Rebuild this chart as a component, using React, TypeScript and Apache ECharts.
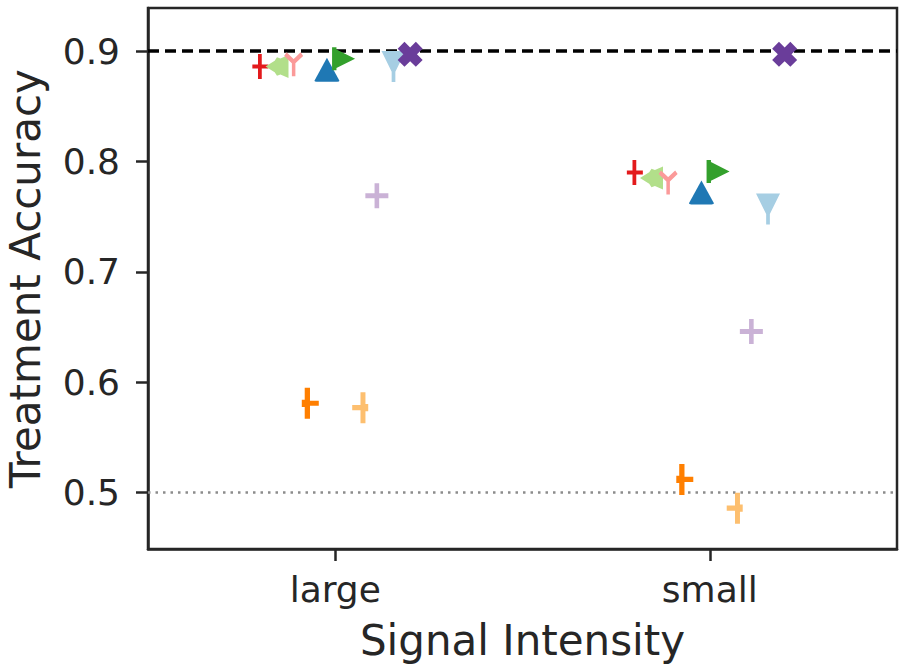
import React, { useEffect, useRef } from "react";
import * as echarts from "echarts";

// ---- data ----
const categories = ["large", "small"];
const yTicks = [0.5, 0.6, 0.7, 0.8, 0.9];
const hueColors = [
  "#e31a1c", "#b2df8a", "#fb9a99", "#ff7f00", "#1f78b4",
  "#33a02c", "#fdbf6f", "#cab2d6", "#a6cee3", "#6a3d9a",
];
const largeValues = [0.886, 0.886, 0.888, 0.581, 0.883, 0.893, 0.577, 0.769, 0.886, 0.897];
const smallValues = [0.790, 0.785, 0.781, 0.512, 0.772, 0.791, 0.486, 0.646, 0.757, 0.897];
const targetLine = 0.9;
const chanceLine = 0.5;

// ---- marker shapes (layout/style) ----
const markers: { symbol: string; size: number[] }[] = [
  { symbol: "path://M6,0 H10 V11 H17 V15 H10 V26 H6 V15 H0 V11 H6 Z", size: [16, 25] },
  { symbol: "path://M0,10 L8,5 L10,2 L13,3 L20,0 L20,20 L13,17 L10,18 L8,15 Z", size: [23, 23] },
  { symbol: "path://M11.2,8.6 L3.2,2.6 L0.8,5.4 L8.3,11 V21 H11.7 V11 L19.2,5.4 L16.8,2.6 L8.8,8.6 Z", size: [19, 24] },
  { symbol: "path://M4,0 H8.5 V12.5 H16 V17.5 H8.5 V30 H4 V18.5 H1.5 V11.5 H4 Z", size: [17, 31] },
  { symbol: "path://M11,0 L22,21 Q22,22 20,22 H2 Q0,22 0,21 Z", size: [25, 24] },
  { symbol: "path://M0,1 H4 V3 L21,11.5 L4,20 V22 H0 Z", size: [23, 23] },
  { symbol: "path://M8.5,0 H13 V11.5 H15.5 V18.5 H13 V30 H8.5 V17.5 H1 V12.5 H8.5 Z", size: [16, 31] },
  { symbol: "path://M8,0 H12 V8 H20 V12 H12 V20 H8 V12 H0 V8 H8 Z", size: [23, 25] },
  { symbol: "path://M0,0 H22 L12.7,18 V27 H9.3 V18 Z", size: [24, 31] },
  { symbol: "path://M0,6 L6,0 L11,5 L16,0 L22,6 L17,11 L22,16 L16,22 L11,17 L6,22 L0,16 L5,11 Z", size: [25, 25] },
];

const DODGE = 0.4;
const TEXT = "#262626";
const FONT = "DejaVu Sans";

export default function App() {
  const ref = useRef<HTMLDivElement>(null);

  useEffect(() => {
    if (!ref.current) return;
    const chart = echarts.init(ref.current, null, { renderer: "svg" });
    const n = hueColors.length;
    const scatterSeries = hueColors.map((color, i) => {
      const off = -DODGE / 2 + (i * DODGE) / (n - 1);
      return {
        type: "scatter",
        name: "h" + i,
        z: 5,
        symbol: markers[i].symbol,
        symbolSize: markers[i].size,
        itemStyle: { color, opacity: 1 },
        data: [
          [0 + off, largeValues[i]],
          [1 + off, smallValues[i]],
        ],
      };
    });

    chart.setOption({
      animation: false,
      backgroundColor: "#ffffff",
      textStyle: { fontFamily: FONT },
      grid: {
        left: 148,
        top: 8,
        right: 7,
        bottom: 121,
        show: true,
        borderColor: TEXT,
        borderWidth: 2.5,
        backgroundColor: "transparent",
        outerBoundsMode: "none",
      },
      xAxis: {
        type: "value",
        min: -0.5,
        max: 1.5,
        name: "Signal Intensity",
        nameLocation: "middle",
        nameGap: 70,
        nameTextStyle: { fontSize: 42, color: TEXT, fontFamily: FONT },
        axisLine: { show: true, onZero: false, lineStyle: { color: TEXT, width: 2.5 } },
        axisTick: {
          show: true,
          length: 12,
          customValues: [0, 1],
          lineStyle: { color: TEXT, width: 2.5 },
        },
        axisLabel: {
          show: true,
          customValues: [0, 1],
          margin: 22,
          fontSize: 36,
          color: TEXT,
          fontFamily: FONT,
          formatter: (v: number) => categories[Math.round(v)] ?? "",
        },
        splitLine: { show: false },
      },
      yAxis: {
        type: "value",
        min: 0.449,
        max: 0.939,
        name: "Treatment Accuracy",
        nameLocation: "middle",
        nameGap: 102,
        nameTextStyle: { fontSize: 42, color: TEXT, fontFamily: FONT },
        axisLine: { show: true, onZero: false, lineStyle: { color: TEXT, width: 2.5 } },
        axisTick: {
          show: true,
          length: 12,
          customValues: yTicks,
          lineStyle: { color: TEXT, width: 2.5 },
        },
        axisLabel: {
          show: true,
          customValues: yTicks,
          margin: 28,
          fontSize: 36,
          color: TEXT,
          fontFamily: FONT,
          formatter: (v: number) => v.toFixed(1),
        },
        splitLine: { show: false },
      },
      series: [
        {
          type: "line",
          data: [],
          z: 1,
          markLine: {
            silent: true,
            symbol: "none",
            label: { show: false },
            z: 1,
            data: [
              { yAxis: targetLine, lineStyle: { color: "#000000", width: 3.5, type: [11, 6] } },
              { yAxis: chanceLine, lineStyle: { color: "#8c8c8c", width: 2.5, type: [2.5, 5] } },
            ],
          },
        },
        ...scatterSeries,
      ],
    });
    return () => chart.dispose();
  }, []);

  return (
    <div
      ref={ref}
      style={{ position: "fixed", left: 0, top: 0, width: 904, height: 670, background: "#fff" }}
    />
  );
}
